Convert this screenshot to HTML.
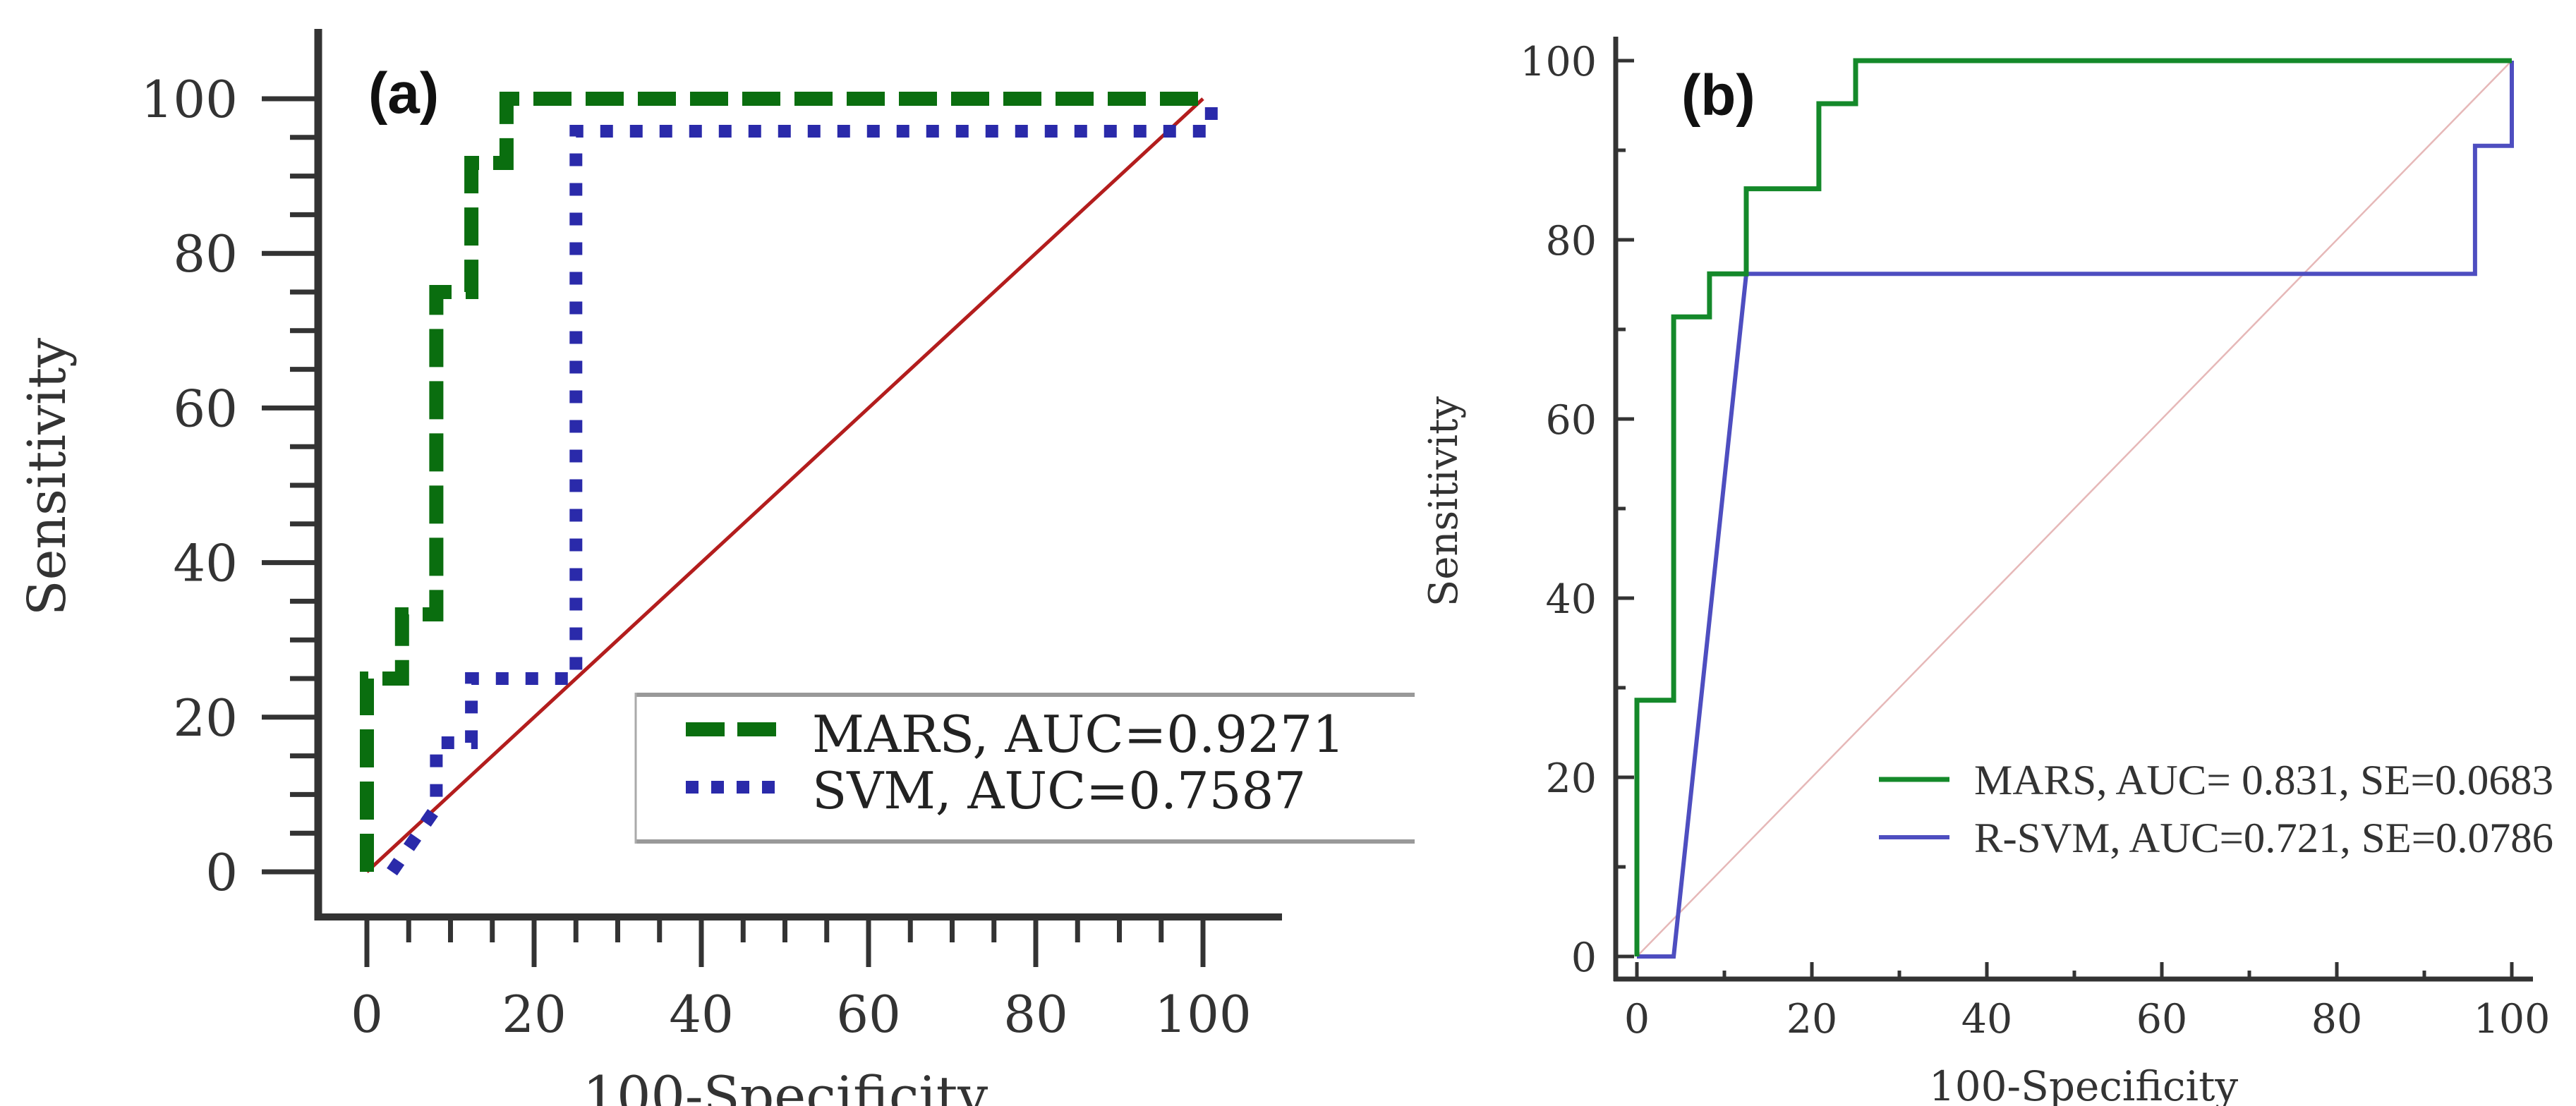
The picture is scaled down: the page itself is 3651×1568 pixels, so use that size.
<!DOCTYPE html>
<html><head><meta charset="utf-8"><style>
html,body{margin:0;padding:0;background:#fff;}
svg{display:block;}
</style></head><body>
<svg id="fig" width="3651" height="1568" viewBox="0 0 3651 1568" xmlns="http://www.w3.org/2000/svg">
<rect width="3651" height="1568" fill="#fff"/>
<g id="pa"></g>
<g id="pb"></g>
</svg>
<script>
// Panel (a) data
const aMarsX=[0,0,4.2,4.2,8.3,8.3,12.5,12.5,16.7,16.7,100];
const aMarsY=[0,25,25,33.3,33.3,75,75,91.7,91.7,100,100];
const aSvmX=[3,8.3,8.3,12.5,12.5,25,25,101,101];
const aSvmY=[0,8.3,16.7,16.7,25,25,95.8,95.8,100];
const aTicks=[0,20,40,60,80,100];
// Panel (b) data
const bMarsX=[0,0,4.2,4.2,8.3,8.3,12.5,12.5,20.8,20.8,25,25,100];
const bMarsY=[0,28.6,28.6,71.4,71.4,76.2,76.2,85.7,85.7,95.2,95.2,100,100];
const bSvmX=[0,4.2,12.5,95.8,95.8,100,100];
const bSvmY=[0,0,76.2,76.2,90.5,90.5,100];
const bTicks=[0,20,40,60,80,100];

const NS='http://www.w3.org/2000/svg';
function mk(parent,tag,attrs,text){const e=document.createElementNS(NS,tag);for(const k in attrs)e.setAttribute(k,attrs[k]);if(text!==undefined)e.textContent=text;parent.appendChild(e);return e;}
function pts(xs,ys,sx,sy){return xs.map((x,i)=>sx(x).toFixed(1)+','+sy(ys[i]).toFixed(1)).join(' ');}

// ---------- Panel A ----------
(function(){
const g=document.getElementById('pa');
const sx=v=>520+v*11.85, sy=v=>1236-v*10.96;
let e;
e=mk(g,'line',{x1:451,y1:41,x2:451,y2:1305,stroke:'#333','stroke-width':11});

e=mk(g,'line',{x1:446,y1:1300,x2:1817,y2:1300,stroke:'#333','stroke-width':10});

for(let v=0;v<=100;v+=5){
  const major=v%20===0;
  e=mk(g,'line',{x1:major?371:411,y1:sy(v),x2:451,y2:sy(v),stroke:'#333','stroke-width':7});
  
  e=mk(g,'line',{x1:sx(v),y1:1300,x2:sx(v),y2:major?1371:1336,stroke:'#333','stroke-width':7});
  
}
aTicks.forEach(t=>{
  e=mk(g,'text',{x:337,y:sy(t)+26,'text-anchor':'end','font-family':'DejaVu Serif, serif','font-size':72,fill:'#333'},String(t));
  
  e=mk(g,'text',{x:sx(t),y:1463,'text-anchor':'middle','font-family':'DejaVu Serif, serif','font-size':72,fill:'#333'},String(t));
  
});
e=mk(g,'text',{x:1113,y:1580,'text-anchor':'middle','font-family':'DejaVu Serif, serif','font-size':76,fill:'#333'},'100-Specificity');

e=mk(g,'text',{x:0,y:0,'text-anchor':'middle','font-family':'DejaVu Serif, serif','font-size':74,fill:'#333',transform:'translate(92,676) rotate(-90)'},'Sensitivity');

e=mk(g,'text',{x:522,y:160,'font-family':'Liberation Sans, sans-serif','font-size':82,'font-weight':'bold',fill:'#111'},'(a)');

// diagonal
e=mk(g,'line',{x1:sx(0),y1:sy(0),x2:sx(100),y2:sy(100),stroke:'#b31d1d','stroke-width':5});

e=mk(g,'polyline',{points:pts(aSvmX,aSvmY,sx,sy),fill:'none',stroke:'#2a2aaa','stroke-width':18,'stroke-dasharray':'18 24'});

e=mk(g,'polyline',{points:pts(aMarsX,aMarsY,sx,sy),fill:'none',stroke:'#0a6e0f','stroke-width':20,'stroke-dasharray':'54 20'});

// legend
const lg=mk(g,'g',{});

mk(lg,'rect',{x:901,y:985,width:1200,height:208,fill:'#fff',stroke:'none'});
mk(lg,'line',{x1:901,y1:985,x2:2005,y2:985,stroke:'#999','stroke-width':6});
mk(lg,'line',{x1:901,y1:1193,x2:2005,y2:1193,stroke:'#999','stroke-width':6});
mk(lg,'line',{x1:901,y1:982,x2:901,y2:1196,stroke:'#aaa','stroke-width':3});
e=mk(lg,'line',{x1:972,y1:1034,x2:1100,y2:1034,stroke:'#0a6e0f','stroke-width':20,'stroke-dasharray':'55 18'});

e=mk(lg,'line',{x1:972,y1:1116,x2:1100,y2:1116,stroke:'#2a2aaa','stroke-width':18,'stroke-dasharray':'18 18'});

e=mk(lg,'text',{x:1151,y:1066,'font-family':'DejaVu Serif, serif','font-size':72,fill:'#222',textLength:755,lengthAdjust:'spacingAndGlyphs'},'MARS, AUC=0.9271');

e=mk(lg,'text',{x:1151,y:1146,'font-family':'DejaVu Serif, serif','font-size':72,fill:'#222',textLength:700,lengthAdjust:'spacingAndGlyphs'},'SVM, AUC=0.7587');

})();

// ---------- Panel B ----------
(function(){
const g=document.getElementById('pb');
const sx=v=>2320+v*12.4, sy=v=>1356-v*12.7;
let e;
e=mk(g,'line',{x1:2290,y1:52,x2:2290,y2:1391,stroke:'#333','stroke-width':7});

e=mk(g,'line',{x1:2287,y1:1388,x2:3590,y2:1388,stroke:'#333','stroke-width':7});

for(let v=0;v<=100;v+=10){
  const major=v%20===0;
  e=mk(g,'line',{x1:2290,y1:sy(v),x2:major?2316:2304,y2:sy(v),stroke:'#333','stroke-width':5});
  
  e=mk(g,'line',{x1:sx(v),y1:1388,x2:sx(v),y2:major?1364:1376,stroke:'#333','stroke-width':5});
  
}
bTicks.forEach(t=>{
  e=mk(g,'text',{x:2263,y:sy(t)+21,'text-anchor':'end','font-family':'DejaVu Serif, serif','font-size':57,fill:'#333'},String(t));
  
  e=mk(g,'text',{x:sx(t),y:1464,'text-anchor':'middle','font-family':'DejaVu Serif, serif','font-size':57,fill:'#333'},String(t));
  
});
e=mk(g,'text',{x:2953,y:1560,'text-anchor':'middle','font-family':'DejaVu Serif, serif','font-size':58,fill:'#333'},'100-Specificity');

e=mk(g,'text',{x:0,y:0,'text-anchor':'middle','font-family':'DejaVu Serif, serif','font-size':56,fill:'#333',transform:'translate(2065,711) rotate(-90)'},'Sensitivity');

e=mk(g,'text',{x:2383,y:163,'font-family':'Liberation Sans, sans-serif','font-size':82,'font-weight':'bold',fill:'#111'},'(b)');

e=mk(g,'line',{x1:sx(0),y1:sy(0),x2:sx(100),y2:sy(100),stroke:'#e6b8b8','stroke-width':2.5});

e=mk(g,'polyline',{points:pts(bSvmX,bSvmY,sx,sy),fill:'none',stroke:'#4e4ec0','stroke-width':6});

e=mk(g,'polyline',{points:pts(bMarsX,bMarsY,sx,sy),fill:'none',stroke:'#14892a','stroke-width':7});

const lg=mk(g,'g',{});

e=mk(lg,'line',{x1:2663,y1:1105,x2:2763,y2:1105,stroke:'#14892a','stroke-width':7});

e=mk(lg,'line',{x1:2663,y1:1187,x2:2763,y2:1187,stroke:'#4e4ec0','stroke-width':6});

e=mk(lg,'text',{x:2798,y:1126,'font-family':'Liberation Serif, serif','font-size':60,fill:'#333',textLength:821,lengthAdjust:'spacingAndGlyphs'},'MARS, AUC= 0.831, SE=0.0683');

e=mk(lg,'text',{x:2798,y:1208,'font-family':'Liberation Serif, serif','font-size':60,fill:'#333',textLength:821,lengthAdjust:'spacingAndGlyphs'},'R-SVM, AUC=0.721, SE=0.0786');

})();
</script>
</body></html>
